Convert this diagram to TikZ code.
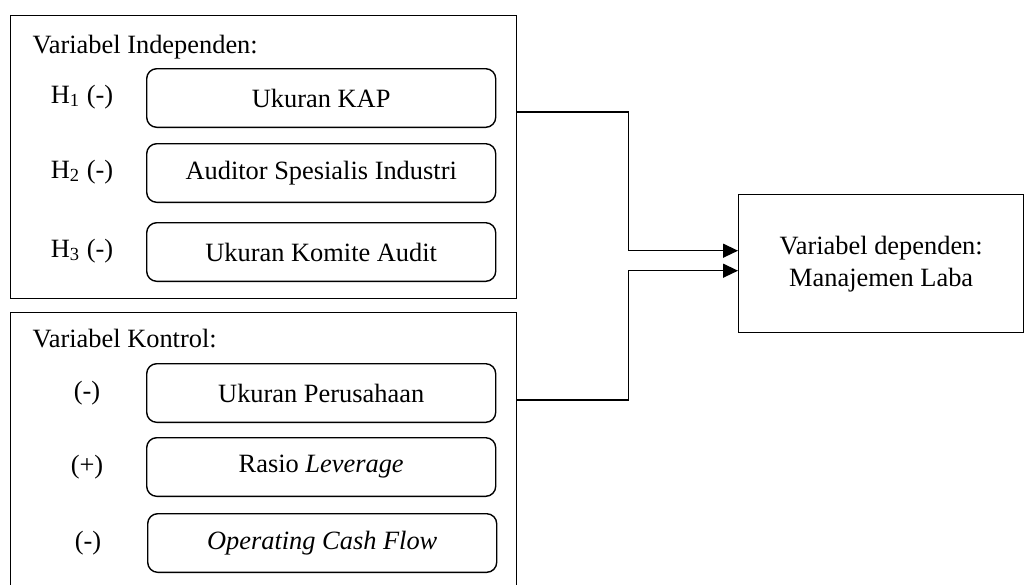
\documentclass[tikz,border=0pt]{standalone}
\usepackage{fontspec}
\setmainfont{Liberation Serif}
\usetikzlibrary{arrows.meta}
\begin{document}
\begin{tikzpicture}[x=0.5pt,y=-0.5pt,line width=0.7pt,
  every node/.style={font=\fontsize{13.2}{16}\selectfont},
  groupbox/.style={draw,rectangle,inner sep=0pt,anchor=north west,minimum width=253pt},
  varbox/.style={draw,rounded corners=5pt,inner sep=0pt,anchor=north west,minimum width=174.5pt,minimum height=29.3pt},
  heading/.style={inner sep=0pt,anchor=base west},
  signlabel/.style={inner sep=0pt,anchor=base},
  depbox/.style={draw,rectangle,inner sep=0pt,anchor=north west,minimum width=142.5pt,minimum height=69pt,align=center},
  link/.style={-{Triangle[length=7.5pt,width=7pt]}}
]
\clip (0,0) rectangle (1031,584);
% group boxes
\node[groupbox,minimum height=141.5pt] (ind) at (10,15) {};
\node[groupbox,minimum height=140pt] (ctl) at (10,312) {};
\node[heading] (indt) at (32,53) {Variabel Independen:};
\node[heading] (ctlt) at (32,347) {Variabel Kontrol:};
% independent variables
\node[varbox] (v1) at (146,68) {Ukuran KAP};
\node[varbox] (v2) at (146,143) {Auditor Spesialis Industri};
\node[varbox] (v3) at (146,222) {Ukuran Komite Audit};
\node[signlabel] (h1) at (82,103) {H\textsubscript{1} (-)};
\node[signlabel] (h2) at (82,178) {H\textsubscript{2} (-)};
\node[signlabel] (h3) at (82,257) {H\textsubscript{3} (-)};
% control variables
\node[varbox] (c1) at (146,363) {Ukuran Perusahaan};
\node[varbox] (c2) at (146,437) {Rasio \textit{Leverage}};
\node[varbox] (c3) at (147,513) {\textit{Operating Cash Flow}};
\node[signlabel] (s1) at (87,399) {(-)};
\node[signlabel] (s2) at (87,473) {(+)};
\node[signlabel] (s3) at (88,549) {(-)};
% dependent
\node[depbox] (dep) at (738,194) {Variabel dependen:\\Manajemen Laba};
% connectors
\draw[link] ([yshift=-48.5pt]ind.north east) -- ++(55.5pt,0) |- ([yshift=6.5pt]dep.west);
\draw[link] ([yshift=-44pt]ctl.north east) -- ++(55.5pt,0) |- ([yshift=-3.5pt]dep.west);
\end{tikzpicture}
\end{document}
